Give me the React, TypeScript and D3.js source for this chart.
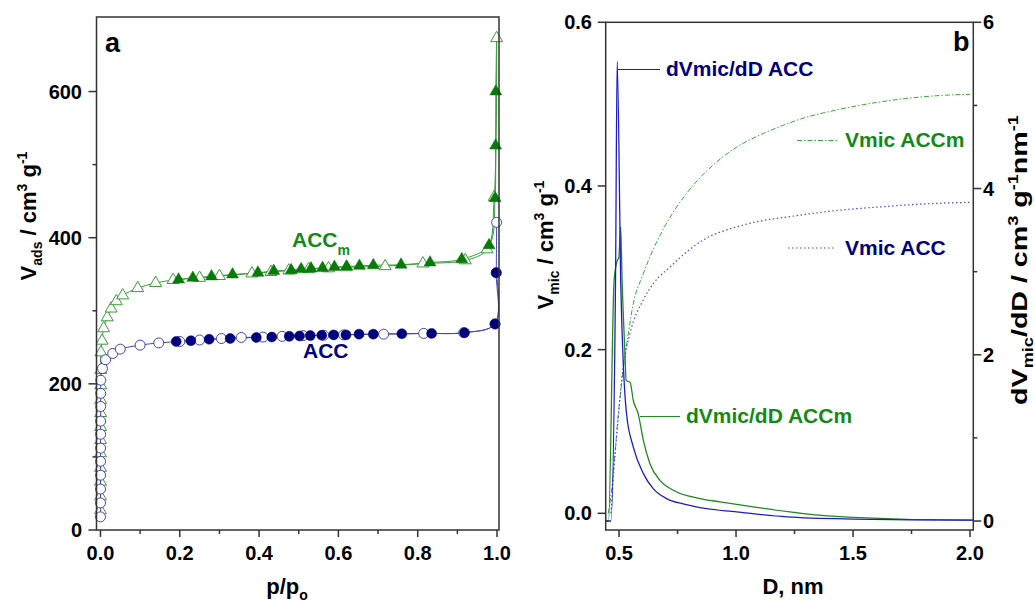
import React from "react";
import * as d3 from "d3";

const W = 1035;
const H = 602;
const FONT = "'Liberation Sans', Arial, sans-serif";

const NAVY = "#00007d";
const BLUE = "#4444b4";
const GREEN = "#138a13";
const LGREEN = "#3a9c3a";

// panel a: N2 isotherms, [p/p0, V cm3/g]
const accAds = [
  [0.00005, 18], [0.0001, 37], [0.00015, 56], [0.0002, 75], [0.00025, 94], [0.0003, 112],
  [0.00035, 131], [0.0004, 149], [0.0005, 169], [0.0006, 187], [0.0008, 205], [0.005, 221],
  [0.013, 233], [0.031, 241.6], [0.05, 247.5], [0.1, 253], [0.147, 256], [0.2, 258],
  [0.25, 260], [0.305, 262], [0.355, 263.5], [0.41, 264], [0.458, 265], [0.511, 266],
  [0.563, 266.6], [0.613, 267], [0.714, 268], [0.815, 269], [0.916, 270], [0.995, 282],
  [0.998, 352], [0.999, 421],
];
const accDes = [
  [0.998, 352], [0.995, 282], [0.918, 270], [0.835, 269], [0.76, 268.5], [0.688, 268],
  [0.652, 268], [0.619, 267], [0.588, 267], [0.558, 266.5], [0.529, 266], [0.502, 265.5],
  [0.476, 265], [0.432, 264], [0.393, 263.5], [0.327, 262], [0.274, 261], [0.228, 259],
  [0.191, 258],
];
const accmAds = [
  [0.00005, 27], [0.0001, 46], [0.00015, 66], [0.0002, 85], [0.00025, 105], [0.0003, 123],
  [0.00035, 141], [0.0004, 160], [0.0005, 178], [0.0006, 198], [0.0008, 219], [0.0012, 243],
  [0.004, 259], [0.008, 276], [0.017, 291], [0.027, 303], [0.04, 313], [0.056, 321],
  [0.094, 331], [0.139, 338], [0.183, 342], [0.25, 345], [0.3, 347.5], [0.382, 351],
  [0.43, 353], [0.475, 355], [0.525, 357], [0.575, 358], [0.62, 359.5], [0.718, 361],
  [0.813, 364.6], [0.92, 369], [0.975, 384], [0.993, 455.7], [0.999, 673],
];
const accmDes = [
  [0.997, 600], [0.9965, 526], [0.995, 454], [0.98, 389.7], [0.911, 370.5], [0.831, 366],
  [0.758, 363], [0.688, 362.3], [0.653, 361.4], [0.621, 360.5], [0.59, 360], [0.56, 358.6],
  [0.531, 357.8], [0.506, 357], [0.481, 355.5], [0.437, 354.5], [0.397, 352], [0.333, 349.6],
  [0.28, 347], [0.233, 345], [0.197, 342.7],
];

// panel b: pore size, [D nm, value]
const dvAcc = [
  [0.443, 0], [0.465, 0], [0.485, 2.9], [0.492, 5.53], [0.508, 2.78], [0.518, 1.9],
  [0.532, 1.29], [0.561, 0.89], [0.604, 0.57], [0.646, 0.39], [0.703, 0.27], [0.774, 0.205],
  [0.846, 0.16], [1.003, 0.11], [1.217, 0.05], [1.5, 0.024], [2.0, 0.01], [2.014, 0.01],
];
const dvAccm = [
  [0.443, 0], [0.455, 0], [0.479, 2.9], [0.492, 3.13], [0.499, 3.17], [0.507, 3.54],
  [0.513, 2.9], [0.526, 1.97], [0.53, 1.69], [0.547, 1.67], [0.561, 1.45], [0.582, 1.29],
  [0.604, 0.97], [0.632, 0.69], [0.675, 0.49], [0.732, 0.37], [0.846, 0.27], [0.932, 0.23],
  [1.074, 0.17], [1.288, 0.09], [1.501, 0.045], [2.0, 0.01], [2.014, 0.01],
];
const vmicAccm = [
  [0.454, 0], [0.469, 0.03], [0.483, 0.075], [0.5, 0.13], [0.52, 0.18], [0.54, 0.22],
  [0.56, 0.255], [0.6, 0.29], [0.65, 0.325], [0.7, 0.353], [0.8, 0.395], [0.9, 0.425],
  [1.0, 0.447], [1.1, 0.462], [1.2, 0.474], [1.3, 0.484], [1.4, 0.491], [1.5, 0.497],
  [1.6, 0.502], [1.7, 0.506], [1.8, 0.509], [1.9, 0.511], [2.0, 0.512],
];
const vmicAcc = [
  [0.465, 0], [0.479, 0.057], [0.497, 0.118], [0.518, 0.179], [0.547, 0.22], [0.604, 0.261],
  [0.65, 0.282], [0.718, 0.301], [0.8, 0.322], [0.86, 0.334], [1.003, 0.35], [1.1, 0.357],
  [1.217, 0.362], [1.43, 0.37], [1.644, 0.375], [1.8, 0.378], [2.0, 0.38],
];

const xTicksA = [0, 0.2, 0.4, 0.6, 0.8, 1.0];
const xMinorA = [0.1, 0.3, 0.5, 0.7, 0.9];
const yTicksA = [0, 200, 400, 600];
const yMinorA = [100, 300, 500];
const xTicksB = [0.5, 1.0, 1.5, 2.0];
const xMinorB = [0.75, 1.25, 1.75];
const yTicksBL = [0, 0.2, 0.4, 0.6];
const yTicksBR = [0, 2, 4, 6];
const yMinorBR = [1, 3, 5];

export default function App() {
  const xA = d3.scaleLinear().domain([-0.01, 1.005]).range([96.5, 499]);
  const yA = d3.scaleLinear().domain([0, 702]).range([530, 17]);
  const xB = d3.scaleLinear().domain([0.443, 2.014]).range([605.7, 973.3]);
  const yBL = d3.scaleLinear().domain([-0.0204, 0.6]).range([530, 22.3]);
  const yBR = d3.scaleLinear().domain([-0.108, 6]).range([530, 22.3]);

  const lineA = d3.line<number[]>().x((d) => xA(d[0])).y((d) => yA(d[1])).curve(d3.curveCatmullRom.alpha(0.5));
  const lineBL = d3.line<number[]>().x((d) => xB(d[0])).y((d) => yBL(d[1])).curve(d3.curveMonotoneX);
  const lineBR = d3.line<number[]>().x((d) => xB(d[0])).y((d) => yBR(d[1])).curve(d3.curveMonotoneX);
  const tri = d3.symbol().type(d3.symbolTriangle).size(62)() as string;

  const axisColor = "#333";
  const [a0, a1] = xA.range();
  const [b0, b1] = xB.range();

  return (
    <svg width={W} height={H} style={{ position: "absolute", left: 0, top: 0, background: "#fff" }}
      fontFamily={FONT} fontWeight="bold">
      <defs>
        <clipPath id="clipB"><rect x={b0} y={22.3} width={b1 - b0} height={530 - 22.3} /></clipPath>
      </defs>

      {/* ---------- panel a ---------- */}
      <path d={lineA([accmAds[accmAds.length - 1], ...accmDes]) as string} fill="none" stroke={LGREEN} strokeWidth={1} />
      <path d={lineA(accmAds) as string} fill="none" stroke={LGREEN} strokeWidth={1} />
      {accmAds.map((d, i) => (
        <path key={"ta" + i} d={tri} transform={`translate(${xA(d[0])},${yA(d[1])})`} fill="#fff" stroke={LGREEN} strokeWidth={1} />
      ))}
      {accmDes.map((d, i) => (
        <path key={"td" + i} d={tri} transform={`translate(${xA(d[0])},${yA(d[1])})`} fill="#077a07" stroke="#077a07" strokeWidth={0.5} />
      ))}
      <path d={lineA(accAds) as string} fill="none" stroke={BLUE} strokeWidth={1} />
      <path d={lineA(accDes) as string} fill="none" stroke={BLUE} strokeWidth={1} />
      {accAds.map((d, i) => (
        <circle key={"ca" + i} cx={xA(d[0])} cy={yA(d[1])} r={5} fill="#fff" stroke={BLUE} strokeWidth={1} />
      ))}
      {accDes.map((d, i) => (
        <circle key={"cd" + i} cx={xA(d[0])} cy={yA(d[1])} r={5} fill={NAVY} stroke={NAVY} strokeWidth={0.5} />
      ))}

      <rect x={a0} y={17} width={a1 - a0} height={530 - 17} fill="none" stroke={axisColor} strokeWidth={1.5} />
      {xTicksA.map((t) => (
        <g key={"xa" + t}>
          <line x1={xA(t)} x2={xA(t)} y1={530} y2={537} stroke={axisColor} strokeWidth={1.5} />
          <text x={xA(t)} y={560} textAnchor="middle" fontSize={20}>{t.toFixed(1)}</text>
        </g>
      ))}
      {xMinorA.map((t) => (
        <line key={"xam" + t} x1={xA(t)} x2={xA(t)} y1={530} y2={534} stroke={axisColor} strokeWidth={1.5} />
      ))}
      {yTicksA.map((t) => (
        <g key={"ya" + t}>
          <line x1={a0} x2={a0 - 8} y1={yA(t)} y2={yA(t)} stroke={axisColor} strokeWidth={1.5} />
          <text x={82} y={yA(t) + 7} textAnchor="end" fontSize={20}>{t}</text>
        </g>
      ))}
      {yMinorA.map((t) => (
        <line key={"yam" + t} x1={a0} x2={a0 - 4} y1={yA(t)} y2={yA(t)} stroke={axisColor} strokeWidth={1.5} />
      ))}
      <text x={105} y={52} fontSize={27}>a</text>
      <text x={292} y={247} fontSize={21} fill={GREEN}>ACC<tspan fontSize={14} dy={8}>m</tspan></text>
      <text x={303} y={358} fontSize={21} fill={NAVY}>ACC</text>
      <text x={287} y={594} textAnchor="middle" fontSize={22}>
        p/p<tspan fontSize={14} dy={6}>o</tspan>
      </text>
      <text transform="translate(36,216) rotate(-90)" textAnchor="middle" fontSize={22}>
        V<tspan fontSize={14} dy={6}>ads</tspan><tspan dy={-6}> / cm</tspan>
        <tspan fontSize={14} dy={-9}>3</tspan><tspan dy={9}> g</tspan>
        <tspan fontSize={14} dy={-9}>-1</tspan>
      </text>

      {/* ---------- panel b ---------- */}
      <g clipPath="url(#clipB)">
        <path d={lineBL(vmicAccm) as string} fill="none" stroke="#3aa83a" strokeWidth={1} strokeDasharray="5,2,1.5,2" />
        <path d={lineBL(vmicAcc) as string} fill="none" stroke="#4a4ae0" strokeWidth={1.2} strokeDasharray="1.5,2.5" />
        <path d={lineBR(dvAccm) as string} fill="none" stroke="#1f8a1f" strokeWidth={1.3} />
        <path d={lineBR(dvAcc) as string} fill="none" stroke="#1c1cc0" strokeWidth={1.3} />
      </g>
      <rect x={b0} y={22.3} width={b1 - b0} height={530 - 22.3} fill="none" stroke={axisColor} strokeWidth={1.5} />
      {xTicksB.map((t) => (
        <g key={"xb" + t}>
          <line x1={xB(t)} x2={xB(t)} y1={530} y2={537} stroke={axisColor} strokeWidth={1.5} />
          <text x={xB(t)} y={560} textAnchor="middle" fontSize={20}>{t.toFixed(1)}</text>
        </g>
      ))}
      {xMinorB.map((t) => (
        <line key={"xbm" + t} x1={xB(t)} x2={xB(t)} y1={530} y2={534} stroke={axisColor} strokeWidth={1.5} />
      ))}
      {yTicksBL.map((t) => (
        <g key={"ybl" + t}>
          <line x1={b0} x2={b0 - 8} y1={yBL(t)} y2={yBL(t)} stroke={axisColor} strokeWidth={1.5} />
          <text x={592} y={yBL(t) + 7} textAnchor="end" fontSize={20}>{t.toFixed(1)}</text>
        </g>
      ))}
      {yTicksBR.map((t) => (
        <g key={"ybr" + t}>
          <line x1={b1} x2={b1 + 8} y1={yBR(t)} y2={yBR(t)} stroke={axisColor} strokeWidth={1.5} />
          <text x={983} y={yBR(t) + 7} fontSize={20}>{t}</text>
        </g>
      ))}
      {yMinorBR.map((t) => (
        <line key={"ybrm" + t} x1={b1} x2={b1 + 4} y1={yBR(t)} y2={yBR(t)} stroke={axisColor} strokeWidth={1.5} />
      ))}
      <text x={953} y={51} fontSize={27}>b</text>

      <line x1={618} x2={660} y1={69.5} y2={69.5} stroke="#1c1cc0" strokeWidth={1.2} />
      <text x={666} y={76} fontSize={21} fill={NAVY}>dVmic/dD ACC</text>
      <line x1={797} x2={838} y1={140.5} y2={140.5} stroke="#3aa83a" strokeWidth={1.2} strokeDasharray="5,2,1.5,2" />
      <text x={845} y={147} fontSize={21} fill={GREEN}>Vmic ACCm</text>
      <line x1={788} x2={835} y1={248} y2={248} stroke="#4a4ae0" strokeWidth={1.2} strokeDasharray="1.5,2.5" />
      <text x={845} y={255} fontSize={21} fill={NAVY}>Vmic ACC</text>
      <line x1={640} x2={680} y1={416.5} y2={416.5} stroke="#1f8a1f" strokeWidth={1.2} />
      <text x={686} y={423} fontSize={21} fill={GREEN}>dVmic/dD ACCm</text>

      <text x={793} y={594} textAnchor="middle" fontSize={22}>D, nm</text>
      <text transform="translate(553,245) rotate(-90)" textAnchor="middle" fontSize={22}>
        V<tspan fontSize={14} dy={6}>mic</tspan><tspan dy={-6}> / cm</tspan>
        <tspan fontSize={14} dy={-9}>3</tspan><tspan dy={9}> g</tspan>
        <tspan fontSize={14} dy={-9}>-1</tspan>
      </text>
      <text transform="translate(1027,260) rotate(-90) scale(1.3,1)" textAnchor="middle" fontSize={22}>
        dV<tspan fontSize={14} dy={6}>mic</tspan><tspan dy={-6}>/dD  / cm</tspan>
        <tspan fontSize={14} dy={-9}>3</tspan><tspan dy={9}> g</tspan>
        <tspan fontSize={14} dy={-9}>-1</tspan><tspan dy={9}>nm</tspan>
        <tspan fontSize={14} dy={-9}>-1</tspan>
      </text>
    </svg>
  );
}
